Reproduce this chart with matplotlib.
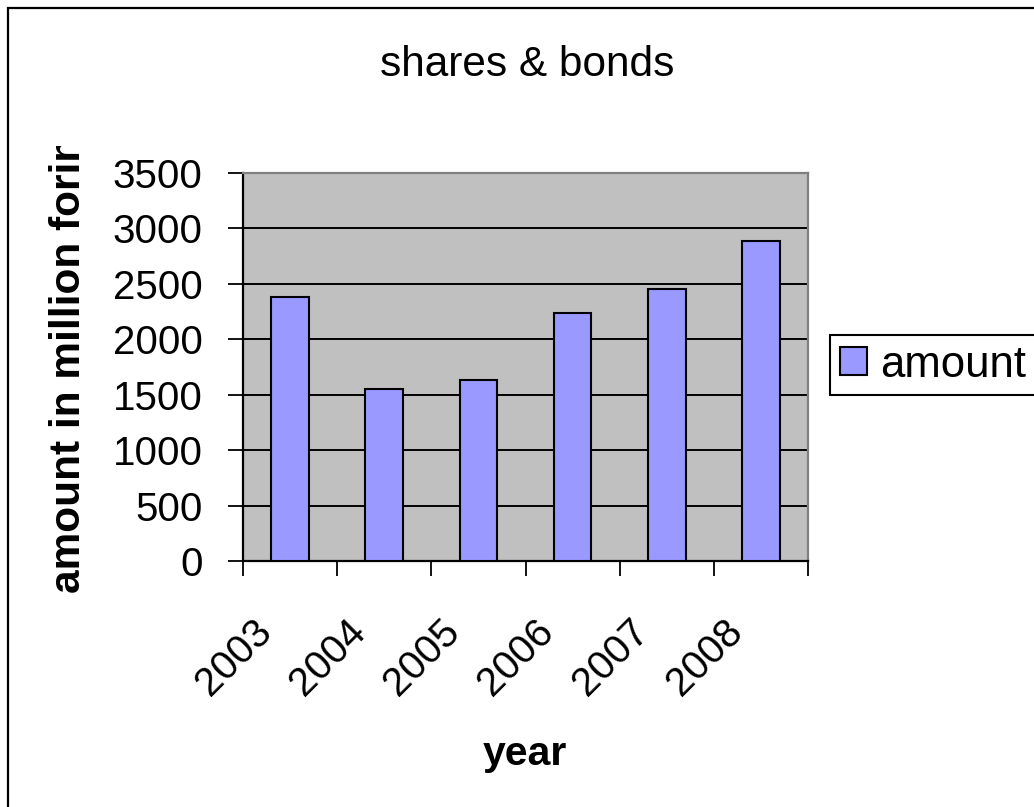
import matplotlib
matplotlib.use("Agg")
import matplotlib.pyplot as plt
from matplotlib.patches import Rectangle
from matplotlib.transforms import Bbox, ScaledTranslation

years = ["2003", "2004", "2005", "2006", "2007", "2008"]
amounts = [2381, 1550, 1637, 2234, 2451, 2885]
yticks = [0, 500, 1000, 1500, 2000, 2500, 3000, 3500]

plt.rcParams['font.family'] = ['Liberation Sans', 'DejaVu Sans']

W, H = 1034, 807
fig = plt.figure(figsize=(W / 100, H / 100), dpi=100)
fig.patch.set_facecolor('white')

L, R, T, B = 243, 808, 173, 561
ax = fig.add_axes([L / W, 1 - B / H, (R - L) / W, (B - T) / H])
ax.set_facecolor('#C0C0C0')

x = list(range(len(years)))
bars = ax.bar(x, amounts, width=0.4, color='#9999FF', edgecolor='black',
              linewidth=1.5, label='amount', zorder=3)

ax.set_xlim(-0.5, len(years) - 0.5)
ax.set_ylim(0, 3500)
ax.set_yticks(yticks)
ax.set_yticklabels([str(v) for v in yticks], fontsize=29)
ax.yaxis.grid(True, color='black', linewidth=1.4, zorder=1)
ax.set_axisbelow(True)
ax.tick_params(axis='y', direction='out', length=11, width=1.3, pad=18, colors='black')

ax.set_xticks(x)
ax.set_xticklabels(years, fontsize=29, rotation=45, ha='right', va='top')
ax.set_xticks([i - 0.5 for i in range(len(years) + 1)], minor=True)
ax.tick_params(axis='x', which='major', length=0, pad=37)
ax.tick_params(axis='x', which='minor', direction='out', length=11, width=1.3)
off = ScaledTranslation(-11 / 100, 0, fig.dpi_scale_trans)
for lab in ax.get_xticklabels():
    lab.set_transform(lab.get_transform() + off)

for s in ['left', 'bottom']:
    ax.spines[s].set_color('black')
    ax.spines[s].set_linewidth(1.6)
for s in ['top', 'right']:
    ax.spines[s].set_color('#808080')
    ax.spines[s].set_linewidth(1.6)

# Title
fig.text(527 / W, 1 - 76 / H, "shares & bonds", ha='center', va='baseline', fontsize=30.5)
# X label
fig.text(525 / W, 1 - 765 / H, "year", ha='center', va='baseline', fontsize=29.5,
         fontweight='bold')
# Y label (clipped at top like the original)
yl = fig.text(69 / W, 1 - 593 / H, "amount in million forint", rotation=90,
              ha='center', va='bottom', fontsize=30.5, fontweight='bold')
yl.set_clip_box(Bbox.from_extents(0, 0, W, H - 146))
yl.set_clip_on(True)

# Legend
leg = ax.legend(loc='upper left', bbox_to_anchor=(830 / W, 1 - 335 / H),
                bbox_transform=fig.transFigure, fontsize=31.5, frameon=True,
                fancybox=False, edgecolor='black', borderpad=0.22,
                borderaxespad=0, handlelength=0.62, handleheight=0.62,
                handletextpad=0.3)
leg.get_frame().set_linewidth(1.5)
leg.get_frame().set_alpha(None)
leg.get_frame().set_facecolor('white')

# Outer chart border
fig.patches.append(Rectangle((8 / W, -0.1), 1.2, 1.1 - 8 / H, transform=fig.transFigure,
                             fill=False, edgecolor='black', linewidth=1.6))

fig.savefig("out.png", dpi=100)
